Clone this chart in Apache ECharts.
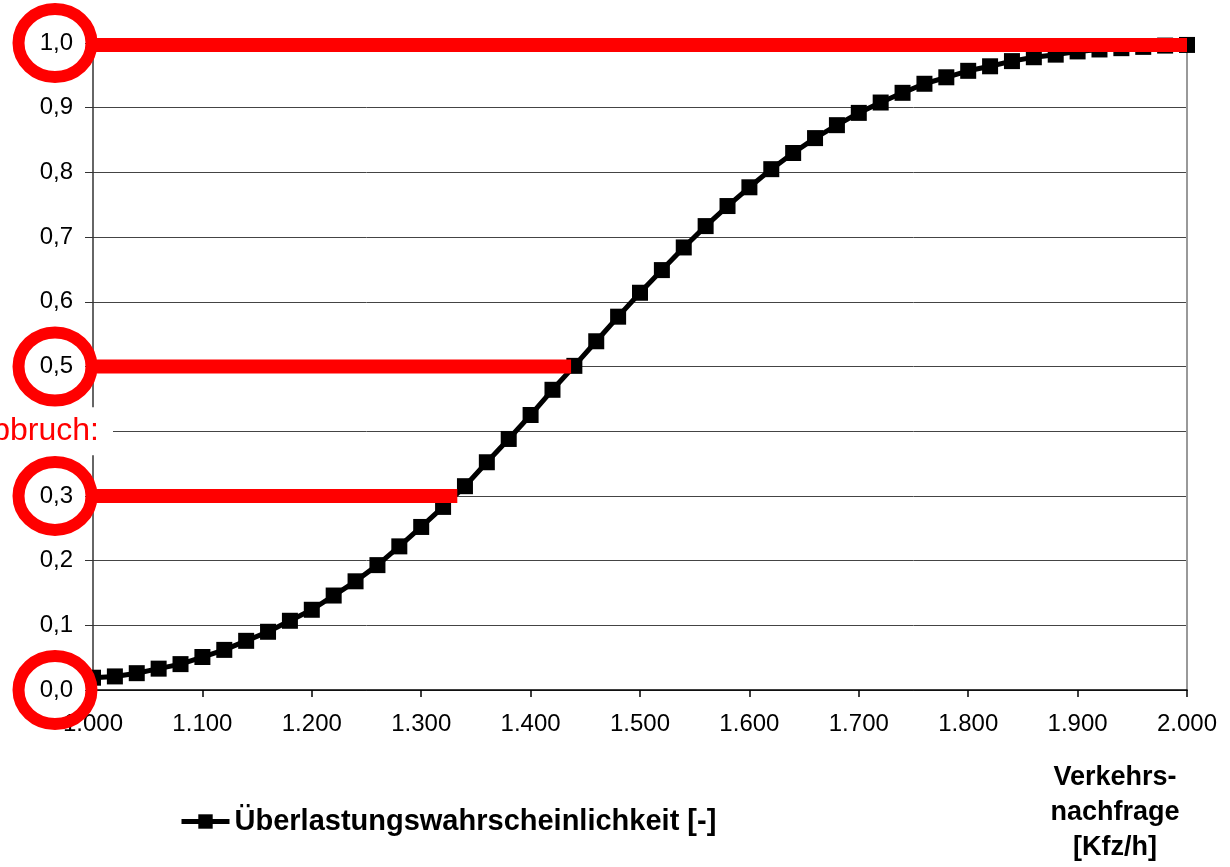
<!DOCTYPE html>
<html><head><meta charset="utf-8">
<script src="https://cdn.jsdelivr.net/npm/echarts@6/dist/echarts.min.js"></script>
<style>html,body{margin:0;padding:0;background:#fff}#c{width:1230px;height:867px}</style>
</head><body><div id="c"></div>
<script>
// ---- data ----
const demand = [1000,1020,1040,1060,1080,1100,1120,1140,1160,1180,
  1200,1220,1240,1260,1280,1300,1320,1340,1360,1380,
  1400,1420,1440,1460,1480,1500,1520,1540,1560,1580,
  1600,1620,1640,1660,1680,1700,1720,1740,1760,1780,
  1800,1820,1840,1860,1880,1900,1920,1940,1960,1980,2000];
const probability = [0.019,0.021,0.026,0.033,0.040,0.051,0.062,0.076,0.090,0.107,
  0.124,0.146,0.168,0.193,0.222,0.252,0.283,0.315,0.352,0.388,
  0.425,0.464,0.501,0.539,0.577,0.614,0.649,0.684,0.717,0.748,
  0.777,0.805,0.830,0.853,0.873,0.892,0.908,0.923,0.937,0.947,
  0.957,0.964,0.972,0.978,0.982,0.987,0.990,0.992,0.994,0.996,0.997];
const xTicks = ['1.000','1.100','1.200','1.300','1.400','1.500','1.600','1.700','1.800','1.900','2.000'];
const yTicks = ['0,0','0,1','0,2','0,3','','0,5','0,6','0,7','0,8','0,9','1,0'];
const circledLevels = [1.0, 0.5, 0.3, 0.0];
const redLevels = [0.997, 0.5, 0.3];
const redEnds = [2000, 1437, 1333];
const cutoffLabel = 'Abbruch:';
const cutoffLevel = 0.4;
const seriesName = 'Überlastungswahrscheinlichkeit [-]';
const xName = 'Verkehrs-\nnachfrage\n[Kfz/h]';

const FONT = '"Liberation Sans", Arial, sans-serif';
const chart = echarts.init(document.getElementById('c'), null, {renderer: 'canvas'});

const redSeries = redLevels.map((lv, i) => ({
  type: 'line', name: 'red' + i, data: [[1000, lv], [redEnds[i], lv]],
  showSymbol: false, symbol: 'none', silent: true, z: 5,
  lineStyle: {color: '#ff0000', width: 14, cap: 'butt'}
}));

chart.setOption({
  animation: false,
  backgroundColor: '#fff',
  textStyle: {fontFamily: FONT},
  grid: {left: 93, right: 43, top: 43, bottom: 177, containLabel: false, outerBoundsMode: 'none'},
  legend: {
    data: [seriesName], left: 179, top: 807, padding: 0, itemWidth: 48, itemHeight: 18, itemGap: 6,
    lineStyle: {width: 5},
    textStyle: {fontSize: 29, fontWeight: 'bold', color: '#000', fontFamily: FONT}
  },
  xAxis: {
    type: 'value', min: 1000, max: 2000, interval: 100,
    axisLine: {lineStyle: {color: '#000', width: 1.5}},
    axisTick: {show: true, length: 7, lineStyle: {color: '#000', width: 1.5}},
    axisLabel: {formatter: v => xTicks[Math.round((v - 1000) / 100)], fontSize: 24, color: '#000', margin: 22, fontFamily: FONT},
    splitLine: {show: false}
  },
  yAxis: [{
    type: 'value', min: 0, max: 1, interval: 0.1,
    axisLine: {show: true, lineStyle: {color: '#333', width: 1.5}},
    axisTick: {show: true, length: 8, lineStyle: {color: '#333'}},
    axisLabel: {formatter: v => yTicks[Math.round(v * 10)], fontSize: 24, color: '#000', margin: 20, fontFamily: FONT},
    splitLine: {show: true, lineStyle: {color: '#444', width: 1}}
  }, {
    type: 'value', min: 0, max: 1, interval: 0.1, position: 'right',
    axisLine: {show: true, lineStyle: {color: '#999', width: 2}},
    axisTick: {show: false}, axisLabel: {show: false}, splitLine: {show: false}
  }],
  series: [
    {
      type: 'line', name: seriesName, data: demand.map((d, i) => [d, probability[i]]),
      symbol: 'rect', symbolSize: 16, z: 3,
      lineStyle: {color: '#000', width: 5}, itemStyle: {color: '#000'}
    },
    ...redSeries,
    {
      type: 'custom', name: 'circles', coordinateSystem: 'cartesian2d', clip: false, z: 10, silent: true,
      data: circledLevels.map(v => [1000, v]),
      encode: {x: 0, y: 1},
      renderItem: (params, api) => {
        const p = api.coord([api.value(0), api.value(1)]);
        return {type: 'ellipse', shape: {cx: p[0] - 38, cy: p[1], rx: 36.5, ry: 34}, style: {fill: 'none', stroke: '#ff0000', lineWidth: 12}};
      }
    },
    {
      type: 'custom', name: 'cutoff', coordinateSystem: 'cartesian2d', clip: false, z: 9, silent: true,
      data: [[1000, cutoffLevel]],
      encode: {x: 0, y: 1},
      renderItem: (params, api) => {
        const p = api.coord([api.value(0), api.value(1)]);
        return {type: 'group', children: [
          {type: 'rect', shape: {x: p[0] - 110, y: p[1] - 24, width: 130, height: 48}, style: {fill: '#fff'}},
          {type: 'text', x: p[0] + 6, y: p[1], style: {text: cutoffLabel, fill: '#ff0000', font: '32px ' + FONT, align: 'right', verticalAlign: 'middle'}}
        ]};
      }
    },
    {
      type: 'custom', name: 'axisname', coordinateSystem: 'cartesian2d', clip: false, z: 9, silent: true,
      data: [[2000, 0]],
      encode: {x: 0, y: 1},
      renderItem: (params, api) => {
        const p = api.coord([api.value(0), api.value(1)]);
        return {type: 'text', x: p[0] - 72, y: p[1] + 70, style: {text: xName, fill: '#000', font: 'bold 27px ' + FONT,
          align: 'center', verticalAlign: 'top', lineHeight: 35}};
      }
    }
  ]
});
</script></body></html>
